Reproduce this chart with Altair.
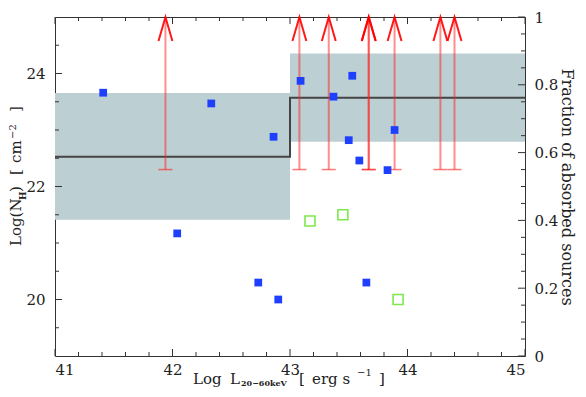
import altair as alt
import pandas as pd

# ---------------- data ----------------
X_MIN, X_MAX = 41, 45
NH_MIN, NH_MAX = 19, 25
FR_MIN, FR_MAX = 0, 1

blue_x = [41.41, 42.33, 42.86, 42.04, 42.73, 42.90, 43.09, 43.53, 43.37, 43.50, 43.59, 43.83, 43.89, 43.65]
blue_y = [23.66, 23.47, 22.88, 21.17, 20.30, 20.00, 23.87, 23.96, 23.59, 22.82, 22.46, 22.29, 23.00, 20.30]

green_x = [43.17, 43.45, 43.92]
green_y = [21.39, 21.50, 20.00]

limit_x = [41.94, 43.08, 43.33, 43.67, 43.67, 43.89, 44.28, 44.40]
limit_y = [22.3, 22.3, 22.3, 22.3, 22.3, 22.3, 22.3, 22.3]

bin_lo = [41, 43]
bin_hi = [43, 45]
frac = [0.588, 0.762]
frac_lo = [0.402, 0.632]
frac_hi = [0.776, 0.892]

x_major = [41, 42, 43, 44, 45]
x_minor = [41.2, 41.4, 41.6, 41.8, 42.2, 42.4, 42.6, 42.8, 43.2, 43.4, 43.6, 43.8, 44.2, 44.4, 44.6, 44.8]
nh_major = [20, 22, 24]
nh_minor = [19.5, 20.5, 21, 21.5, 22.5, 23, 23.5, 24.5]
fr_major = [0, 0.2, 0.4, 0.6, 0.8, 1]
fr_minor = [0.05, 0.1, 0.15, 0.25, 0.3, 0.35, 0.45, 0.5, 0.55, 0.65, 0.7, 0.75, 0.85, 0.9, 0.95]

# ---------------- layout ----------------
W, H = 470, 339
FONT = "DejaVu Serif"
TXT = "#222222"
AXC = "#333333"
MAJ, MIN = 7, 4

xs = alt.Scale(domain=[X_MIN, X_MAX], nice=False, zero=False)
nhs = alt.Scale(domain=[NH_MIN, NH_MAX], nice=False, zero=False)
frs = alt.Scale(domain=[FR_MIN, FR_MAX], nice=False, zero=False)

x_axis = alt.Axis(values=x_major, format="d", ticks=False, domain=False, grid=False,
                  labelFont=FONT, labelFontSize=15, labelColor=TXT, labelPadding=6, title=None)

blue_df = pd.DataFrame({"x": blue_x, "y": blue_y})
green_df = pd.DataFrame({"x": green_x, "y": green_y})
lim_df = pd.DataFrame({"x": limit_x, "y": limit_y, "top": [NH_MAX] * len(limit_x)})
band_df = pd.DataFrame({"x": bin_lo, "x2": bin_hi, "lo": frac_lo, "hi": frac_hi})
step_df = pd.DataFrame({"x": bin_lo + [bin_hi[-1]], "y": frac + [frac[-1]]})

band = alt.Chart(band_df).mark_rect(color="#bccfd3").encode(
    x=alt.X("x:Q", scale=xs, axis=x_axis),
    x2="x2:Q",
    y=alt.Y("lo:Q", scale=frs, axis=alt.Axis(
        orient="right", values=fr_major, format="~g", ticks=False, domain=False, grid=False,
        labelFont=FONT, labelFontSize=15, labelColor=TXT, labelPadding=9,
        title="Fraction of absorbed sources", titleAngle=90, titleFont=FONT,
        titleFontSize=16, titleFontWeight="normal", titleColor=TXT, titlePadding=1)),
    y2="hi:Q",
)

step = alt.Chart(step_df).mark_line(interpolate="step-after", color="#444444", strokeWidth=2).encode(
    x=alt.X("x:Q", scale=xs, axis=x_axis),
    y=alt.Y("y:Q", scale=frs, axis=None),
)

def tick_df(vals):
    return pd.DataFrame({"v": vals})

x_ticks = []
for vals, ln in ((x_major, MAJ), (x_minor, MIN)):
    d = tick_df(vals)
    x_ticks.append(alt.Chart(d).mark_rule(color=AXC, strokeWidth=1).encode(
        x=alt.X("v:Q", scale=xs, axis=x_axis), y=alt.value(H), y2=alt.value(H - ln)))
    x_ticks.append(alt.Chart(d).mark_rule(color=AXC, strokeWidth=1).encode(
        x=alt.X("v:Q", scale=xs, axis=x_axis), y=alt.value(0), y2=alt.value(ln)))

nh_ticks = []
for vals, ln in ((nh_major, MAJ), (nh_minor, MIN)):
    nh_ticks.append(alt.Chart(tick_df(vals)).mark_rule(color=AXC, strokeWidth=1).encode(
        y=alt.Y("v:Q", scale=nhs, axis=None), x=alt.value(0), x2=alt.value(ln)))

fr_ticks = []
for vals, ln in ((fr_major, MAJ), (fr_minor, MIN)):
    fr_ticks.append(alt.Chart(tick_df(vals)).mark_rule(color=AXC, strokeWidth=1).encode(
        y=alt.Y("v:Q", scale=frs, axis=None), x=alt.value(W), x2=alt.value(W - ln)))

shafts = alt.Chart(lim_df).mark_rule(color="#ff2020", opacity=0.5, strokeWidth=2).encode(
    x=alt.X("x:Q", scale=xs, axis=x_axis),
    y=alt.Y("y:Q", scale=nhs, axis=None),
    y2="top:Q",
)
caps = alt.Chart(lim_df).mark_tick(orient="horizontal", size=14, thickness=1.5,
                                   color="#ff2020", opacity=0.6).encode(
    x=alt.X("x:Q", scale=xs, axis=x_axis),
    y=alt.Y("y:Q", scale=nhs, axis=None),
)
heads = alt.Chart(lim_df).mark_point(shape="M -0.58 1 L 0 -1 L 0.58 1", filled=False,
                                     size=576, strokeWidth=2, color="#ff0000", opacity=0.9).encode(
    x=alt.X("x:Q", scale=xs, axis=x_axis),
    y=alt.Y("top:Q", scale=nhs, axis=None),
    yOffset=alt.value(12),
)

green = alt.Chart(green_df).mark_square(filled=False, size=100, strokeWidth=1.6,
                                        color="#7ee84c", opacity=1).encode(
    x=alt.X("x:Q", scale=xs, axis=x_axis),
    y=alt.Y("y:Q", scale=nhs, axis=None),
)
blue = alt.Chart(blue_df).mark_square(size=60, color="#1f3fff", opacity=1).encode(
    x=alt.X("x:Q", scale=xs, axis=x_axis),
    y=alt.Y("y:Q", scale=nhs, axis=alt.Axis(
        orient="left", values=nh_major, format="d", ticks=False, domain=False, grid=False,
        labelFont=FONT, labelFontSize=15, labelColor=TXT, labelPadding=10, title=None)),
)

one = pd.DataFrame({"a": [0]})

def txt(s, x, y, size=15, angle=0, weight="normal"):
    kw = dict(text=s, font=FONT, fontSize=size, color=TXT, align="left",
              baseline="alphabetic", fontWeight=weight)
    if angle:
        kw["angle"] = angle
    return alt.Chart(one).mark_text(**kw).encode(x=alt.value(x), y=alt.value(y))

# axis titles with sub/superscripts, built from pieces
titles = [
    txt("Log", 138, 367),
    txt("L", 175, 367),
    txt("20\u221260keV", 186, 369, size=8, weight="bold"),
    txt("[", 244, 367),
    txt("erg s", 257, 367),
    txt("\u22121", 302, 359, size=10),
    txt("]", 324, 367),
    txt("Log(N", -34, 229, angle=270),
    txt("H", -29, 183, size=9, angle=270, weight="bold"),
    txt(")", -34, 175, angle=270),
    txt("[", -34, 158, angle=270),
    txt("cm", -34, 146, angle=270),
    txt("\u22122", -39, 122, size=10, angle=270),
    txt("]", -34, 95, angle=270),
]

chart = alt.layer(
    band, step, *x_ticks, *nh_ticks, *fr_ticks, shafts, caps, heads, green, blue, *titles
).resolve_scale(y="independent").properties(
    width=W, height=H,
    autosize=alt.AutoSizeParams(type="none"),
    padding={"left": 47, "top": 9, "right": 53, "bottom": 33},
).configure_view(stroke=AXC, strokeWidth=1)

chart.save("out.html", embed_options={"renderer": "svg", "actions": False})
